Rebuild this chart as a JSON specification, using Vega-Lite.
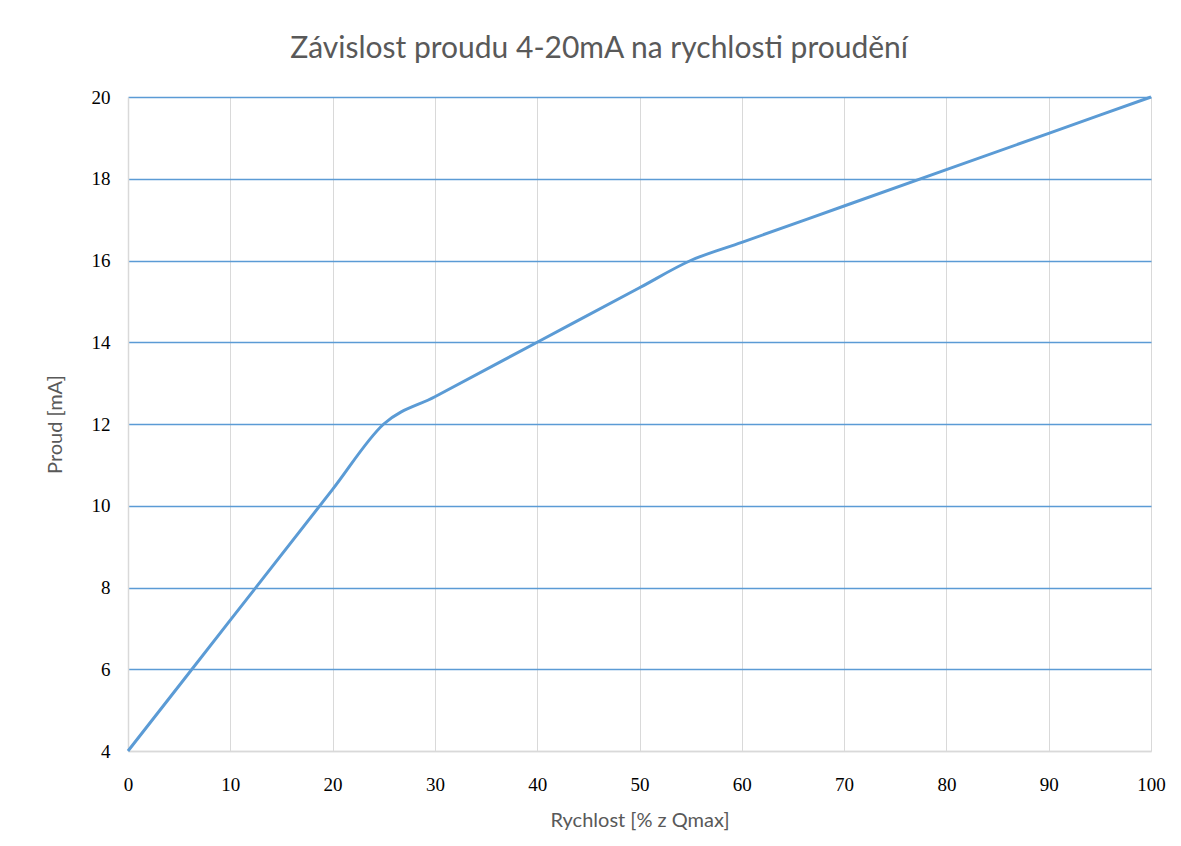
{
  "$schema": "https://vega.github.io/schema/vega-lite/v6.json",
  "autosize": {"type": "none"},
  "width": 1023,
  "height": 654,
  "padding": {"left": 128, "top": 97, "right": 30, "bottom": 95},
  "background": "white",
  "title": {
    "text": "Závislost proudu 4-20mA na rychlosti proudění",
    "font": "Lato",
    "fontSize": 30,
    "fontWeight": "normal",
    "color": "#595959",
    "anchor": "middle",
    "frame": "bounds",
    "offset": 24,
    "dx": -6
  },
  "data": {
    "values": [
      {"x": 0, "y": 4},
      {"x": 10, "y": 7.2},
      {"x": 20, "y": 10.4},
      {"x": 25, "y": 12},
      {"x": 30, "y": 12.667},
      {"x": 40, "y": 14},
      {"x": 50, "y": 15.333},
      {"x": 55, "y": 16},
      {"x": 60, "y": 16.444},
      {"x": 70, "y": 17.333},
      {"x": 80, "y": 18.222},
      {"x": 90, "y": 19.111},
      {"x": 100, "y": 20}
    ]
  },
  "mark": {"type": "line", "interpolate": "monotone", "color": "#5B9BD5", "strokeWidth": 3, "clip": false},
  "encoding": {
    "x": {
      "field": "x",
      "type": "quantitative",
      "scale": {"domain": [0, 100], "nice": false, "zero": false},
      "axis": {
        "title": "Rychlost [% z Qmax]",
        "values": [0, 10, 20, 30, 40, 50, 60, 70, 80, 90, 100],
        "grid": true,
        "gridColor": "#D9D9D9",
        "gridWidth": 1,
        "domainColor": "#D9D9D9",
        "domainWidth": 1.5,
        "ticks": false,
        "labelPadding": 24,
        "labelFont": "Liberation Serif",
        "labelFontSize": 19,
        "labelColor": "#000000",
        "labelFlush": false,
        "labelBaseline": "top",
        "titleFont": "Lato",
        "titleFontSize": 20,
        "titleFontWeight": "normal",
        "titleColor": "#595959",
        "titlePadding": 16
      }
    },
    "y": {
      "field": "y",
      "type": "quantitative",
      "scale": {"domain": [4, 20], "nice": false, "zero": false},
      "axis": {
        "title": "Proud [mA]",
        "values": [4, 6, 8, 10, 12, 14, 16, 18, 20],
        "grid": true,
        "gridColor": {"condition": {"test": "datum.value === 4", "value": "#D9D9D9"}, "value": "#5B9BD5"},
        "gridWidth": 1.5,
        "domainColor": "#D9D9D9",
        "domainWidth": 1.5,
        "ticks": false,
        "labelPadding": 18,
        "labelFont": "Liberation Serif",
        "labelFontSize": 19,
        "labelColor": "#000000",
        "labelFlush": false,
        "titleFont": "Lato",
        "titleFontSize": 20,
        "titleFontWeight": "normal",
        "titleColor": "#595959",
        "titlePadding": 26
      }
    }
  },
  "config": {"view": {"stroke": null}}
}
